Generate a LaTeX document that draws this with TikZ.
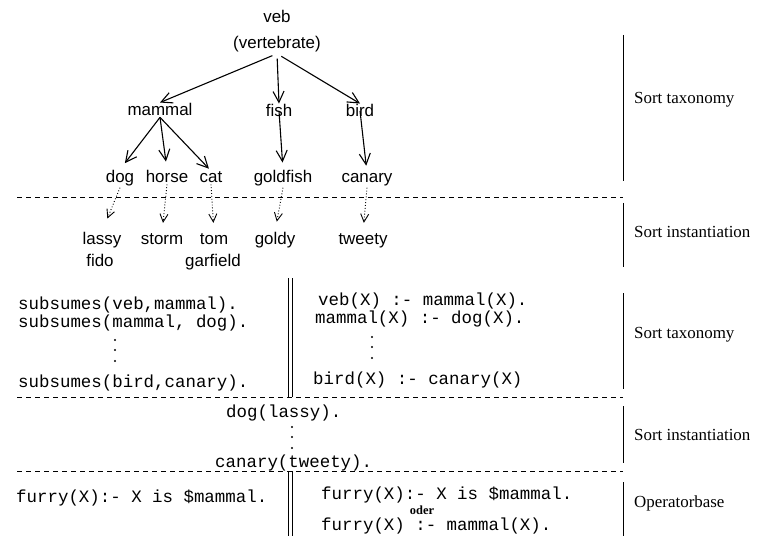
\documentclass[tikz,border=0pt]{standalone}
\usepackage{fontspec}
\setmainfont{Liberation Serif}
\setsansfont{Liberation Sans}
\setmonofont{Liberation Mono}
\usetikzlibrary{positioning,arrows.meta}
\tikzstyle{arrow} = [line width=1.1bp,-{Straight Barb[length=11bp,width=11bp]}]
\tikzstyle{iarrow} = [line width=0.9bp,dotted,-{Straight Barb[length=8bp,width=8bp]},shorten >=10bp]
\tikzstyle{sep} = [line width=0.9bp,dash pattern=on 5bp off 4bp]

\begin{document}
\begin{tikzpicture}[x=1bp,y=-1bp,inner sep=1bp,
    S/.style = {font=\sffamily\fontsize{17}{22}\selectfont, anchor=base},
    C/.style = {font=\ttfamily\fontsize{17.5}{21}\selectfont, anchor=base west},
    R/.style = {font=\rmfamily\fontsize{17}{20}\selectfont, anchor=west}]
    \useasboundingbox (0,0) rectangle (757,536);
    % sort tree
    \node (veb) [S] at (277,23) {veb};
    \node (vert) [S] at (277,49) {(vertebrate)};
    \node (mammal) [S] at (160,116) {mammal};
    \node (fish) [S] at (279,117) {fish};
    \node (bird) [S] at (360,117) {bird};
    \node (dog) [S] at (120,183) {dog};
    \node (horse) [S] at (167,183) {horse};
    \node (cat) [S] at (211,183) {cat};
    \node (goldfish) [S] at (283,183) {goldfish};
    \node (canary) [S] at (367,183) {canary};
    \node (lassy) [S] at (102,245) {lassy};
    \node (fido) [S] at (100,267) {fido};
    \node (storm) [S] at (162,245) {storm};
    \node (tom) [S] at (214,245) {tom};
    \node (garfield) [S] at (213,267) {garfield};
    \node (goldy) [S] at (275,245) {goldy};
    \node (tweety) [S] at (363,245) {tweety};
    \draw[arrow, shorten <=5bp] (vert.south) -- (mammal.north);
    \draw[arrow, shorten <=5bp] (vert.south) -- (fish.north);
    \draw[arrow, shorten <=5bp] (vert.south) -- (bird.north);
    \draw[arrow, shorten >=8bp] (mammal.south) -- (dog.north);
    \draw[arrow, shorten >=8bp] (mammal.south) -- (horse.north);
    \draw[arrow, shorten >=3bp] (mammal.south) -- (cat.north);
    \draw[arrow, shorten >=7bp] (fish.center) -- (goldfish.north);
    \draw[arrow, shorten >=7bp] (bird.center) -- (canary.north);
    \draw[iarrow, shorten >=14bp] (dog.south) -- (lassy.north);
    \draw[iarrow] (horse.south) -- (storm.north);
    \draw[iarrow] (cat.south) -- (tom.north);
    \draw[iarrow] (goldfish.south) -- (goldy.north);
    \draw[iarrow] (canary.south) -- (tweety.north);
    % separators
    \draw[sep] (17,197) -- (623,197);
    \draw[sep] (17,397) -- (623,397);
    \draw[sep] (17,471) -- (623,471);
    \draw[line width=0.6bp] (288,278) -- (288,397) (292,278) -- (292,397);
    \draw[line width=0.6bp] (288,471) -- (288,536) (292,471) -- (292,536);
    % prolog code
    \node (s1) [C] at (17,309) {subsumes(veb,mammal).};
    \node (s2) [C] at (17,327) {subsumes(mammal, dog).};
    \node (s3) [C] at (17,387) {subsumes(bird,canary).};
    \node (r1) [C] at (317,305) {veb(X) :- mammal(X).};
    \node (r2) [C] at (314,323) {mammal(X) :- dog(X).};
    \node (r3) [C] at (312,384) {bird(X) :- canary(X)};
    \node (i1) [C] at (225,417) {dog(lassy).};
    \node (i2) [C] at (214,467) {canary(tweety).};
    \foreach \y in {340,350,361} \fill (115,\y) circle (1.1bp);
    \foreach \y in {337,347,358} \fill (372,\y) circle (1.1bp);
    \foreach \y in {427,437,448} \fill (292,\y) circle (1.1bp);
    \node (o1) [C] at (15,502) {furry(X):- X is \$mammal.};
    \node (o2) [C] at (320,499) {furry(X):- X is \$mammal.};
    \node (oder) [font=\rmfamily\bfseries\fontsize{12.5}{14}\selectfont] at (422,510) {oder};
    \node (o3) [C] at (320,530) {furry(X) :- mammal(X).};
    % levels
    \draw[line width=0.9bp] (623,35) -- (623,181);
    \draw[line width=0.9bp] (623,203) -- (623,267);
    \draw[line width=0.9bp] (623,293) -- (623,389);
    \draw[line width=0.9bp] (623,406) -- (623,463);
    \draw[line width=0.9bp] (623,482) -- (623,536);
    \node (l1) [R] at (633,100) {Sort taxonomy};
    \node (l2) [R] at (633,232) {Sort instantiation};
    \node (l3) [R] at (633,335) {Sort taxonomy};
    \node (l4) [R] at (633,435) {Sort instantiation};
    \node (l5) [R] at (633,503) {Operatorbase};
\end{tikzpicture}
\end{document}
